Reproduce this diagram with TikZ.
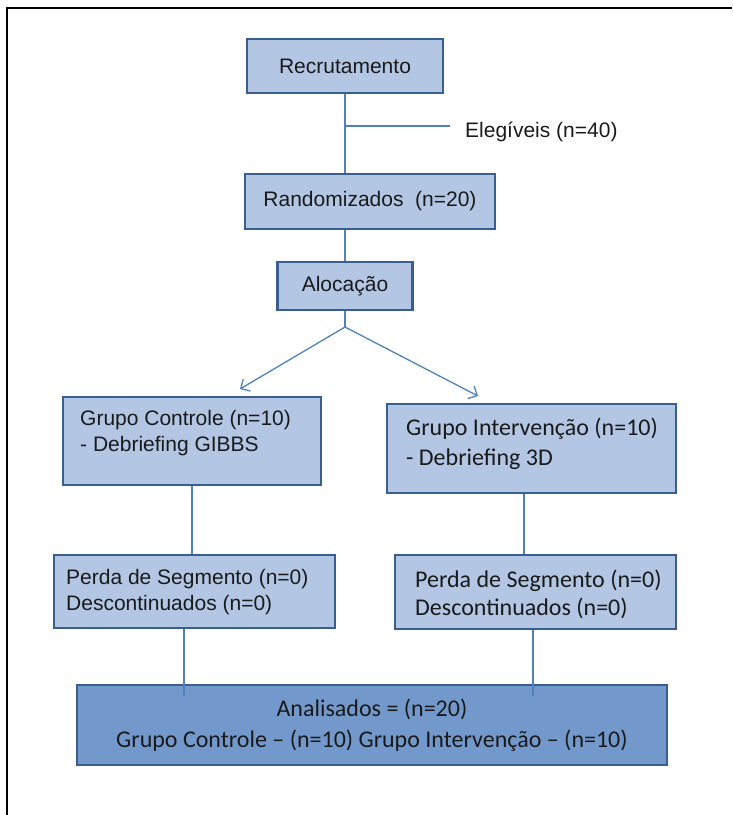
\documentclass[tikz,border=0pt]{standalone}
\usepackage{fontspec}
\setmainfont{Liberation Sans}
\newfontfamily\calibrifont{Carlito}
\usetikzlibrary{arrows.meta}
\definecolor{boxfill}{HTML}{B3C7E4}
\definecolor{darkfill}{HTML}{7399CC}
\definecolor{boxline}{HTML}{3A5F8E}
\definecolor{connc}{HTML}{4F81BD}
\definecolor{txt}{HTML}{1A1A1A}
\begin{document}
\begin{tikzpicture}[x=1pt,y=-1pt,
 box/.style={draw=boxline, line width=2.6pt, fill=boxfill, inner sep=0pt, text=txt},
 darkbox/.style={box, fill=darkfill},
 arialtxt/.style={font=\fontsize{21}{26}\selectfont, text=txt, inner sep=0pt},
 calitxt/.style={font=\calibrifont\fontsize{24}{31}\selectfont, text=txt, inner sep=0pt},
 conn/.style={draw=connc, line width=1.3pt},
 arr/.style={conn, -{Straight Barb[length=7pt,width=14pt]}}]
\useasboundingbox (0,0) rectangle (732,815);
\draw[line width=2pt] (6.5,815) -- (6.5,7.5) -- (732,7.5);

\node[box, arialtxt, minimum width=196pt, minimum height=54pt] (rec) at (345,66) {Recrutamento};
\node[arialtxt, anchor=base west] (eleg) at (465,137) {Elegíveis (n=40)};
\node[box, arialtxt, minimum width=250pt, minimum height=55pt] (rand) at (370,201.5) {Randomizados\ \ (n=20)};
\node[box, arialtxt, minimum width=135pt, minimum height=48pt] (aloc) at (345,286) {Alocação};

\node[box, minimum width=258pt, minimum height=88pt] (gc) at (192,441) {};
\node[arialtxt, anchor=base west] (gc1) at (80,425) {Grupo Controle (n=10)};
\node[arialtxt, anchor=base west] (gc2) at (80,451) {- Debriefing GIBBS};

\node[box, minimum width=281pt, minimum height=73pt] (pl) at (194.5,591.5) {};
\node[arialtxt, anchor=base west] (pl1) at (66,584) {Perda de Segmento (n=0)};
\node[arialtxt, anchor=base west] (pl2) at (66,610) {Descontinuados (n=0)};

\node[box, minimum width=289pt, minimum height=89pt] (gi) at (531.5,448.5) {};
\node[calitxt, anchor=base west] (gi1) at (406,435) {Grupo Intervenção (n=10)};
\node[calitxt, anchor=base west] (gi2) at (406,465) {- Debriefing 3D};

\node[box, minimum width=281pt, minimum height=74pt] (pr) at (535.5,592) {};
\node[calitxt, anchor=base west] (pr1) at (415,587) {Perda de Segmento (n=0)};
\node[calitxt, anchor=base west] (pr2) at (415,615) {Descontinuados (n=0)};

\node[darkbox, calitxt, align=center, minimum width=590pt, minimum height=80pt] (an) at (372,725) {Analisados = (n=20)\\Grupo Controle – (n=10) Grupo Intervenção – (n=10)};

\coordinate (elj) at (345,126);
\coordinate (split) at (345,327);
\coordinate (tipL) at (240,389);
\coordinate (tipR) at (478,396);

\draw[conn] (rec.south) -- (rec.south |- rand.north);
\draw[conn, shorten >=15pt] (elj) -- (elj -| eleg.west);
\draw[conn] (aloc.north |- rand.south) -- (aloc.north);
\draw[conn] (aloc.south) -- (split);
\draw[arr] (split) -- (tipL);
\draw[arr] (split) -- (tipR);
\draw[conn] (gc.south) -- (gc.south |- pl.north);
\draw[conn, shorten >=-12pt] ([xshift=-10.5pt]pl.south) -- ([xshift=-10.5pt]pl.south |- an.north);
\draw[conn] ([xshift=-7.5pt]gi.south) -- ([xshift=-7.5pt]gi.south |- pr.north);
\draw[conn, shorten >=-12pt] ([xshift=-2.5pt]pr.south) -- ([xshift=-2.5pt]pr.south |- an.north);
\end{tikzpicture}
\end{document}
